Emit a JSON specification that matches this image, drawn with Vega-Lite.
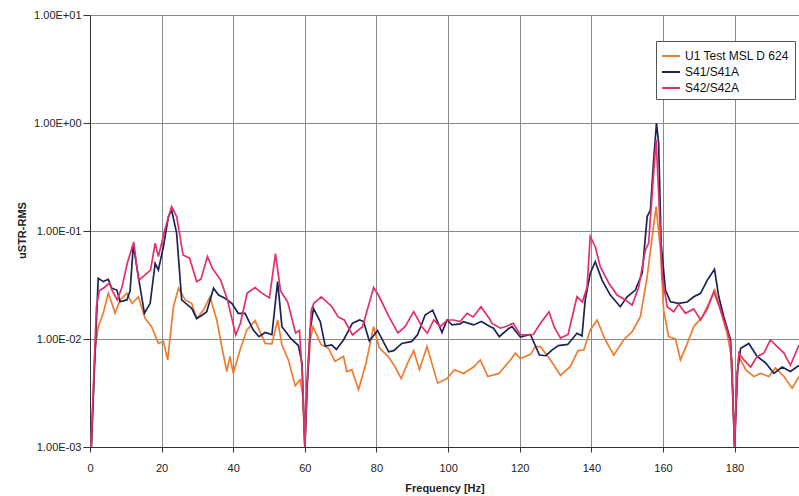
{
  "$schema": "https://vega.github.io/schema/vega-lite/v6.json",
  "autosize": {"type": "none"},
  "padding": {"left": 90, "top": 15, "right": 0, "bottom": 49},
  "width": 709,
  "height": 432,
  "background": "white",
  "config": {
    "font": "Liberation Sans",
    "view": {"stroke": null},
    "axis": {"labelFont": "Liberation Sans", "titleFont": "Liberation Sans", "labelColor": "#222", "titleColor": "#222", "gridColor": "#8a8a8a", "gridWidth": 1, "domainColor": "#333", "tickColor": "#333"},
    "legend": {"labelFont": "Liberation Sans"}
  },
  "encoding": {
    "x": {"field": "f", "type": "quantitative", "scale": {"domain": [0, 198], "nice": false, "zero": false},
      "axis": {"values": [0, 20, 40, 60, 80, 100, 120, 140, 160, 180], "title": "Frequency [Hz]", "titleFontSize": 11, "titleFontWeight": "bold", "labelFontSize": 11, "tickSize": 5, "labelPadding": 10, "titleBaseline": "top", "titleY": 35, "labelFlush": false}},
    "y": {"field": "v", "type": "quantitative", "scale": {"type": "log", "domain": [0.001, 10], "nice": false},
      "axis": {"values": [0.001, 0.01, 0.1, 1, 10], "title": "uSTR-RMS", "titleFontSize": 11, "titleFontWeight": "bold", "labelFontSize": 11, "tickSize": 7, "labelPadding": 2, "titleX": -68, "titleY": 215, "titleAngle": 270, "titleBaseline": "middle", "titleAlign": "center",
        "labelExpr": "'1.00E' + (round(log(datum.value)/LN10) >= 0 ? '+' : '-') + '0' + abs(round(log(datum.value)/LN10))"}},
    "color": {"field": "s", "type": "nominal",
      "scale": {"domain": ["U1 Test MSL D 624", "S41/S41A", "S42/S42A"], "range": ["#EE7D31", "#1C2356", "#E3306A"]},
      "legend": {"title": null, "orient": "none", "legendX": 566, "legendY": 26, "strokeColor": "#555", "fillColor": "white", "padding": 5, "symbolType": "stroke", "symbolSize": 324, "symbolStrokeWidth": 2, "labelFontSize": 12, "labelColor": "#111", "rowPadding": 0, "labelOffset": 4}}
  },
  "layer": [
    {
      "data": {"values": [
        {"s":"U1 Test MSL D 624","f":0.3,"v":0.001},{"s":"U1 Test MSL D 624","f":1.4,"v":0.0079},{"s":"U1 Test MSL D 624","f":2.3,"v":0.013},{"s":"U1 Test MSL D 624","f":3.7,"v":0.0173},{"s":"U1 Test MSL D 624","f":5.1,"v":0.0265},{"s":"U1 Test MSL D 624","f":6.1,"v":0.0214},{"s":"U1 Test MSL D 624","f":7.0,"v":0.0173},{"s":"U1 Test MSL D 624","f":8.4,"v":0.023},{"s":"U1 Test MSL D 624","f":10.3,"v":0.0265},{"s":"U1 Test MSL D 624","f":11.7,"v":0.0214},{"s":"U1 Test MSL D 624","f":13.5,"v":0.0246},{"s":"U1 Test MSL D 624","f":15.4,"v":0.0155},{"s":"U1 Test MSL D 624","f":17.2,"v":0.013},{"s":"U1 Test MSL D 624","f":19.1,"v":0.0091},{"s":"U1 Test MSL D 624","f":20.5,"v":0.0095},{"s":"U1 Test MSL D 624","f":21.7,"v":0.0064},{"s":"U1 Test MSL D 624","f":23.3,"v":0.0199},{"s":"U1 Test MSL D 624","f":24.7,"v":0.0295},{"s":"U1 Test MSL D 624","f":26.6,"v":0.023},{"s":"U1 Test MSL D 624","f":28.4,"v":0.0214},{"s":"U1 Test MSL D 624","f":29.8,"v":0.0155},{"s":"U1 Test MSL D 624","f":31.7,"v":0.0185},{"s":"U1 Test MSL D 624","f":33.5,"v":0.0246},{"s":"U1 Test MSL D 624","f":35.4,"v":0.015},{"s":"U1 Test MSL D 624","f":36.8,"v":0.0085},{"s":"U1 Test MSL D 624","f":38.2,"v":0.005},{"s":"U1 Test MSL D 624","f":39.1,"v":0.0069},{"s":"U1 Test MSL D 624","f":40.0,"v":0.0048},{"s":"U1 Test MSL D 624","f":41.9,"v":0.0079},{"s":"U1 Test MSL D 624","f":43.8,"v":0.0121},{"s":"U1 Test MSL D 624","f":46.1,"v":0.0148},{"s":"U1 Test MSL D 624","f":48.9,"v":0.0091},{"s":"U1 Test MSL D 624","f":50.8,"v":0.009},{"s":"U1 Test MSL D 624","f":52.4,"v":0.015},{"s":"U1 Test MSL D 624","f":53.6,"v":0.0088},{"s":"U1 Test MSL D 624","f":55.4,"v":0.0064},{"s":"U1 Test MSL D 624","f":57.3,"v":0.0037},{"s":"U1 Test MSL D 624","f":58.7,"v":0.0042},{"s":"U1 Test MSL D 624","f":59.4,"v":0.003},{"s":"U1 Test MSL D 624","f":60.0,"v":0.001},{"s":"U1 Test MSL D 624","f":60.7,"v":0.004},{"s":"U1 Test MSL D 624","f":61.5,"v":0.0098},{"s":"U1 Test MSL D 624","f":62.3,"v":0.013},{"s":"U1 Test MSL D 624","f":64.5,"v":0.0089},{"s":"U1 Test MSL D 624","f":66.6,"v":0.0082},{"s":"U1 Test MSL D 624","f":68.4,"v":0.0062},{"s":"U1 Test MSL D 624","f":70.8,"v":0.0069},{"s":"U1 Test MSL D 624","f":71.7,"v":0.005},{"s":"U1 Test MSL D 624","f":73.1,"v":0.0052},{"s":"U1 Test MSL D 624","f":75.0,"v":0.0034},{"s":"U1 Test MSL D 624","f":77.1,"v":0.006},{"s":"U1 Test MSL D 624","f":79.2,"v":0.013},{"s":"U1 Test MSL D 624","f":80.8,"v":0.0083},{"s":"U1 Test MSL D 624","f":83.4,"v":0.0068},{"s":"U1 Test MSL D 624","f":85.2,"v":0.0055},{"s":"U1 Test MSL D 624","f":86.9,"v":0.0043},{"s":"U1 Test MSL D 624","f":88.7,"v":0.006},{"s":"U1 Test MSL D 624","f":90.4,"v":0.0078},{"s":"U1 Test MSL D 624","f":92.0,"v":0.0052},{"s":"U1 Test MSL D 624","f":94.1,"v":0.0085},{"s":"U1 Test MSL D 624","f":97.1,"v":0.0039},{"s":"U1 Test MSL D 624","f":99.7,"v":0.0043},{"s":"U1 Test MSL D 624","f":101.8,"v":0.0052},{"s":"U1 Test MSL D 624","f":104.3,"v":0.0048},{"s":"U1 Test MSL D 624","f":107.1,"v":0.0055},{"s":"U1 Test MSL D 624","f":109.0,"v":0.0064},{"s":"U1 Test MSL D 624","f":111.1,"v":0.0045},{"s":"U1 Test MSL D 624","f":114.2,"v":0.0048},{"s":"U1 Test MSL D 624","f":117.4,"v":0.0064},{"s":"U1 Test MSL D 624","f":118.8,"v":0.0074},{"s":"U1 Test MSL D 624","f":120.2,"v":0.0066},{"s":"U1 Test MSL D 624","f":123.0,"v":0.0072},{"s":"U1 Test MSL D 624","f":124.4,"v":0.0085},{"s":"U1 Test MSL D 624","f":125.8,"v":0.0085},{"s":"U1 Test MSL D 624","f":128.6,"v":0.0064},{"s":"U1 Test MSL D 624","f":131.4,"v":0.0046},{"s":"U1 Test MSL D 624","f":134.2,"v":0.0056},{"s":"U1 Test MSL D 624","f":136.3,"v":0.0078},{"s":"U1 Test MSL D 624","f":137.9,"v":0.0079},{"s":"U1 Test MSL D 624","f":139.7,"v":0.0121},{"s":"U1 Test MSL D 624","f":141.6,"v":0.015},{"s":"U1 Test MSL D 624","f":143.9,"v":0.0098},{"s":"U1 Test MSL D 624","f":146.3,"v":0.0071},{"s":"U1 Test MSL D 624","f":149.0,"v":0.0098},{"s":"U1 Test MSL D 624","f":151.4,"v":0.0117},{"s":"U1 Test MSL D 624","f":153.7,"v":0.0161},{"s":"U1 Test MSL D 624","f":155.6,"v":0.0378},{"s":"U1 Test MSL D 624","f":157.0,"v":0.0885},{"s":"U1 Test MSL D 624","f":158.1,"v":0.168},{"s":"U1 Test MSL D 624","f":159.3,"v":0.0668},{"s":"U1 Test MSL D 624","f":160.2,"v":0.0185},{"s":"U1 Test MSL D 624","f":161.6,"v":0.0105},{"s":"U1 Test MSL D 624","f":163.5,"v":0.01},{"s":"U1 Test MSL D 624","f":164.9,"v":0.0064},{"s":"U1 Test MSL D 624","f":166.8,"v":0.0091},{"s":"U1 Test MSL D 624","f":168.6,"v":0.013},{"s":"U1 Test MSL D 624","f":171.0,"v":0.0161},{"s":"U1 Test MSL D 624","f":172.8,"v":0.0214},{"s":"U1 Test MSL D 624","f":174.5,"v":0.0284},{"s":"U1 Test MSL D 624","f":176.1,"v":0.0185},{"s":"U1 Test MSL D 624","f":177.9,"v":0.0113},{"s":"U1 Test MSL D 624","f":179.3,"v":0.0064},{"s":"U1 Test MSL D 624","f":180.0,"v":0.001},{"s":"U1 Test MSL D 624","f":180.7,"v":0.004},{"s":"U1 Test MSL D 624","f":181.2,"v":0.0069},{"s":"U1 Test MSL D 624","f":183.1,"v":0.0052},{"s":"U1 Test MSL D 624","f":185.4,"v":0.0045},{"s":"U1 Test MSL D 624","f":187.3,"v":0.0048},{"s":"U1 Test MSL D 624","f":189.6,"v":0.0045},{"s":"U1 Test MSL D 624","f":191.4,"v":0.0054},{"s":"U1 Test MSL D 624","f":193.8,"v":0.0045},{"s":"U1 Test MSL D 624","f":196.1,"v":0.0035},{"s":"U1 Test MSL D 624","f":198.0,"v":0.0045}
      ]},
      "mark": {"type": "line", "strokeWidth": 1.7, "clip": true}
    },
    {
      "data": {"values": [
        {"s":"S41/S41A","f":0.4,"v":0.001},{"s":"S41/S41A","f":1.2,"v":0.005},{"s":"S41/S41A","f":2.3,"v":0.0365},{"s":"S41/S41A","f":3.7,"v":0.034},{"s":"S41/S41A","f":5.1,"v":0.0357},{"s":"S41/S41A","f":6.1,"v":0.0295},{"s":"S41/S41A","f":7.5,"v":0.0284},{"s":"S41/S41A","f":8.4,"v":0.0221},{"s":"S41/S41A","f":10.3,"v":0.023},{"s":"S41/S41A","f":11.2,"v":0.028},{"s":"S41/S41A","f":12.1,"v":0.074},{"s":"S41/S41A","f":13.5,"v":0.0378},{"s":"S41/S41A","f":15.2,"v":0.0173},{"s":"S41/S41A","f":16.8,"v":0.0214},{"s":"S41/S41A","f":18.2,"v":0.05},{"s":"S41/S41A","f":19.1,"v":0.0435},{"s":"S41/S41A","f":20.5,"v":0.0715},{"s":"S41/S41A","f":21.9,"v":0.136},{"s":"S41/S41A","f":22.8,"v":0.156},{"s":"S41/S41A","f":24.2,"v":0.095},{"s":"S41/S41A","f":25.6,"v":0.023},{"s":"S41/S41A","f":27.0,"v":0.021},{"s":"S41/S41A","f":28.4,"v":0.0192},{"s":"S41/S41A","f":29.8,"v":0.0155},{"s":"S41/S41A","f":31.2,"v":0.0165},{"s":"S41/S41A","f":32.6,"v":0.0179},{"s":"S41/S41A","f":34.5,"v":0.0295},{"s":"S41/S41A","f":35.9,"v":0.0255},{"s":"S41/S41A","f":37.7,"v":0.0238},{"s":"S41/S41A","f":39.6,"v":0.0214},{"s":"S41/S41A","f":41.4,"v":0.0173},{"s":"S41/S41A","f":43.3,"v":0.0173},{"s":"S41/S41A","f":45.6,"v":0.0121},{"s":"S41/S41A","f":47.2,"v":0.0105},{"s":"S41/S41A","f":48.9,"v":0.0115},{"s":"S41/S41A","f":50.8,"v":0.011},{"s":"S41/S41A","f":52.4,"v":0.034},{"s":"S41/S41A","f":53.6,"v":0.013},{"s":"S41/S41A","f":56.2,"v":0.01},{"s":"S41/S41A","f":58.2,"v":0.0087},{"s":"S41/S41A","f":59.2,"v":0.006},{"s":"S41/S41A","f":60.0,"v":0.001},{"s":"S41/S41A","f":60.7,"v":0.004},{"s":"S41/S41A","f":61.5,"v":0.0121},{"s":"S41/S41A","f":62.4,"v":0.0192},{"s":"S41/S41A","f":64.3,"v":0.0145},{"s":"S41/S41A","f":65.7,"v":0.0086},{"s":"S41/S41A","f":67.5,"v":0.0088},{"s":"S41/S41A","f":68.8,"v":0.008},{"s":"S41/S41A","f":70.8,"v":0.0098},{"s":"S41/S41A","f":73.3,"v":0.014},{"s":"S41/S41A","f":75.3,"v":0.015},{"s":"S41/S41A","f":76.4,"v":0.0145},{"s":"S41/S41A","f":78.0,"v":0.0096},{"s":"S41/S41A","f":80.3,"v":0.012},{"s":"S41/S41A","f":83.4,"v":0.0076},{"s":"S41/S41A","f":84.8,"v":0.0078},{"s":"S41/S41A","f":87.1,"v":0.0091},{"s":"S41/S41A","f":89.9,"v":0.0095},{"s":"S41/S41A","f":91.5,"v":0.011},{"s":"S41/S41A","f":93.6,"v":0.0167},{"s":"S41/S41A","f":95.7,"v":0.0185},{"s":"S41/S41A","f":98.3,"v":0.0115},{"s":"S41/S41A","f":99.7,"v":0.015},{"s":"S41/S41A","f":101.1,"v":0.0135},{"s":"S41/S41A","f":103.4,"v":0.0138},{"s":"S41/S41A","f":104.3,"v":0.0145},{"s":"S41/S41A","f":106.2,"v":0.0138},{"s":"S41/S41A","f":107.1,"v":0.0135},{"s":"S41/S41A","f":109.3,"v":0.0145},{"s":"S41/S41A","f":111.8,"v":0.013},{"s":"S41/S41A","f":112.7,"v":0.0126},{"s":"S41/S41A","f":114.3,"v":0.0105},{"s":"S41/S41A","f":116.9,"v":0.0125},{"s":"S41/S41A","f":117.9,"v":0.013},{"s":"S41/S41A","f":120.2,"v":0.0104},{"s":"S41/S41A","f":123.0,"v":0.011},{"s":"S41/S41A","f":125.5,"v":0.0071},{"s":"S41/S41A","f":127.3,"v":0.007},{"s":"S41/S41A","f":129.0,"v":0.0079},{"s":"S41/S41A","f":130.8,"v":0.0087},{"s":"S41/S41A","f":133.4,"v":0.0089},{"s":"S41/S41A","f":136.0,"v":0.0113},{"s":"S41/S41A","f":137.4,"v":0.0107},{"s":"S41/S41A","f":138.3,"v":0.023},{"s":"S41/S41A","f":139.7,"v":0.0406},{"s":"S41/S41A","f":141.1,"v":0.052},{"s":"S41/S41A","f":143.0,"v":0.0351},{"s":"S41/S41A","f":145.3,"v":0.0255},{"s":"S41/S41A","f":148.1,"v":0.0199},{"s":"S41/S41A","f":150.0,"v":0.0246},{"s":"S41/S41A","f":152.3,"v":0.0284},{"s":"S41/S41A","f":154.2,"v":0.0406},{"s":"S41/S41A","f":155.6,"v":0.136},{"s":"S41/S41A","f":156.5,"v":0.156},{"s":"S41/S41A","f":157.4,"v":0.45},{"s":"S41/S41A","f":158.2,"v":1.0},{"s":"S41/S41A","f":158.8,"v":0.65},{"s":"S41/S41A","f":159.5,"v":0.077},{"s":"S41/S41A","f":160.7,"v":0.0284},{"s":"S41/S41A","f":162.1,"v":0.0221},{"s":"S41/S41A","f":164.4,"v":0.0214},{"s":"S41/S41A","f":166.8,"v":0.022},{"s":"S41/S41A","f":168.6,"v":0.0246},{"s":"S41/S41A","f":170.5,"v":0.0265},{"s":"S41/S41A","f":172.4,"v":0.0351},{"s":"S41/S41A","f":174.4,"v":0.0442},{"s":"S41/S41A","f":175.6,"v":0.0246},{"s":"S41/S41A","f":177.0,"v":0.0161},{"s":"S41/S41A","f":178.9,"v":0.0098},{"s":"S41/S41A","f":179.5,"v":0.003},{"s":"S41/S41A","f":180.0,"v":0.001},{"s":"S41/S41A","f":180.8,"v":0.005},{"s":"S41/S41A","f":181.7,"v":0.0082},{"s":"S41/S41A","f":184.0,"v":0.0091},{"s":"S41/S41A","f":186.3,"v":0.0069},{"s":"S41/S41A","f":188.7,"v":0.006},{"s":"S41/S41A","f":191.0,"v":0.0048},{"s":"S41/S41A","f":193.3,"v":0.0055},{"s":"S41/S41A","f":195.6,"v":0.005},{"s":"S41/S41A","f":198.0,"v":0.0057}
      ]},
      "mark": {"type": "line", "strokeWidth": 1.7, "clip": true}
    },
    {
      "data": {"values": [
        {"s":"S42/S42A","f":0.3,"v":0.001},{"s":"S42/S42A","f":1.0,"v":0.004},{"s":"S42/S42A","f":1.8,"v":0.02},{"s":"S42/S42A","f":2.6,"v":0.028},{"s":"S42/S42A","f":4.0,"v":0.03},{"s":"S42/S42A","f":5.4,"v":0.033},{"s":"S42/S42A","f":6.2,"v":0.028},{"s":"S42/S42A","f":7.6,"v":0.023},{"s":"S42/S42A","f":8.9,"v":0.03},{"s":"S42/S42A","f":10.4,"v":0.05},{"s":"S42/S42A","f":12.2,"v":0.079},{"s":"S42/S42A","f":13.6,"v":0.035},{"s":"S42/S42A","f":14.9,"v":0.038},{"s":"S42/S42A","f":16.9,"v":0.0435},{"s":"S42/S42A","f":18.2,"v":0.077},{"s":"S42/S42A","f":19.1,"v":0.058},{"s":"S42/S42A","f":20.8,"v":0.1},{"s":"S42/S42A","f":22.8,"v":0.168},{"s":"S42/S42A","f":24.2,"v":0.136},{"s":"S42/S42A","f":26.0,"v":0.06},{"s":"S42/S42A","f":27.8,"v":0.056},{"s":"S42/S42A","f":29.8,"v":0.034},{"s":"S42/S42A","f":31.0,"v":0.036},{"s":"S42/S42A","f":32.8,"v":0.058},{"s":"S42/S42A","f":34.2,"v":0.045},{"s":"S42/S42A","f":36.5,"v":0.035},{"s":"S42/S42A","f":38.4,"v":0.023},{"s":"S42/S42A","f":40.7,"v":0.0109},{"s":"S42/S42A","f":42.0,"v":0.014},{"s":"S42/S42A","f":43.9,"v":0.0266},{"s":"S42/S42A","f":46.1,"v":0.03},{"s":"S42/S42A","f":48.0,"v":0.0266},{"s":"S42/S42A","f":50.1,"v":0.024},{"s":"S42/S42A","f":51.8,"v":0.0616},{"s":"S42/S42A","f":53.2,"v":0.028},{"s":"S42/S42A","f":55.2,"v":0.022},{"s":"S42/S42A","f":57.4,"v":0.0114},{"s":"S42/S42A","f":58.5,"v":0.012},{"s":"S42/S42A","f":59.4,"v":0.004},{"s":"S42/S42A","f":60.0,"v":0.001},{"s":"S42/S42A","f":60.6,"v":0.004},{"s":"S42/S42A","f":61.8,"v":0.0185},{"s":"S42/S42A","f":62.5,"v":0.0214},{"s":"S42/S42A","f":64.6,"v":0.0246},{"s":"S42/S42A","f":67.5,"v":0.02},{"s":"S42/S42A","f":69.3,"v":0.016},{"s":"S42/S42A","f":71.0,"v":0.015},{"s":"S42/S42A","f":73.3,"v":0.0109},{"s":"S42/S42A","f":76.1,"v":0.013},{"s":"S42/S42A","f":79.2,"v":0.03},{"s":"S42/S42A","f":80.8,"v":0.0246},{"s":"S42/S42A","f":83.5,"v":0.016},{"s":"S42/S42A","f":86.0,"v":0.0114},{"s":"S42/S42A","f":88.0,"v":0.013},{"s":"S42/S42A","f":90.4,"v":0.0179},{"s":"S42/S42A","f":92.7,"v":0.013},{"s":"S42/S42A","f":94.2,"v":0.0113},{"s":"S42/S42A","f":96.0,"v":0.015},{"s":"S42/S42A","f":97.8,"v":0.013},{"s":"S42/S42A","f":99.8,"v":0.015},{"s":"S42/S42A","f":101.5,"v":0.015},{"s":"S42/S42A","f":103.4,"v":0.0145},{"s":"S42/S42A","f":105.3,"v":0.0173},{"s":"S42/S42A","f":107.0,"v":0.016},{"s":"S42/S42A","f":109.2,"v":0.0199},{"s":"S42/S42A","f":111.5,"v":0.0155},{"s":"S42/S42A","f":112.2,"v":0.014},{"s":"S42/S42A","f":114.6,"v":0.0126},{"s":"S42/S42A","f":116.0,"v":0.013},{"s":"S42/S42A","f":118.2,"v":0.014},{"s":"S42/S42A","f":120.2,"v":0.0109},{"s":"S42/S42A","f":123.8,"v":0.011},{"s":"S42/S42A","f":125.8,"v":0.014},{"s":"S42/S42A","f":128.2,"v":0.0179},{"s":"S42/S42A","f":129.6,"v":0.013},{"s":"S42/S42A","f":131.4,"v":0.0102},{"s":"S42/S42A","f":133.5,"v":0.011},{"s":"S42/S42A","f":136.0,"v":0.0246},{"s":"S42/S42A","f":137.5,"v":0.022},{"s":"S42/S42A","f":138.8,"v":0.03},{"s":"S42/S42A","f":139.7,"v":0.089},{"s":"S42/S42A","f":141.1,"v":0.0715},{"s":"S42/S42A","f":142.5,"v":0.0467},{"s":"S42/S42A","f":144.9,"v":0.0328},{"s":"S42/S42A","f":147.2,"v":0.0255},{"s":"S42/S42A","f":149.5,"v":0.023},{"s":"S42/S42A","f":151.4,"v":0.0206},{"s":"S42/S42A","f":153.2,"v":0.03},{"s":"S42/S42A","f":155.1,"v":0.0668},{"s":"S42/S42A","f":156.0,"v":0.077},{"s":"S42/S42A","f":157.0,"v":0.223},{"s":"S42/S42A","f":158.1,"v":0.7},{"s":"S42/S42A","f":158.8,"v":0.223},{"s":"S42/S42A","f":159.8,"v":0.0378},{"s":"S42/S42A","f":161.2,"v":0.0199},{"s":"S42/S42A","f":163.0,"v":0.0179},{"s":"S42/S42A","f":164.4,"v":0.021},{"s":"S42/S42A","f":166.3,"v":0.0173},{"s":"S42/S42A","f":168.6,"v":0.019},{"s":"S42/S42A","f":170.5,"v":0.015},{"s":"S42/S42A","f":172.4,"v":0.019},{"s":"S42/S42A","f":174.2,"v":0.0274},{"s":"S42/S42A","f":176.1,"v":0.0185},{"s":"S42/S42A","f":177.9,"v":0.0121},{"s":"S42/S42A","f":178.9,"v":0.0092},{"s":"S42/S42A","f":179.5,"v":0.003},{"s":"S42/S42A","f":180.0,"v":0.001},{"s":"S42/S42A","f":180.6,"v":0.004},{"s":"S42/S42A","f":181.2,"v":0.0074},{"s":"S42/S42A","f":182.6,"v":0.0064},{"s":"S42/S42A","f":184.5,"v":0.0055},{"s":"S42/S42A","f":186.3,"v":0.0069},{"s":"S42/S42A","f":188.2,"v":0.0074},{"s":"S42/S42A","f":190.0,"v":0.0098},{"s":"S42/S42A","f":191.9,"v":0.0085},{"s":"S42/S42A","f":193.8,"v":0.0074},{"s":"S42/S42A","f":195.6,"v":0.0057},{"s":"S42/S42A","f":198.0,"v":0.0088}
      ]},
      "mark": {"type": "line", "strokeWidth": 1.7, "clip": true}
    }
  ]
}
